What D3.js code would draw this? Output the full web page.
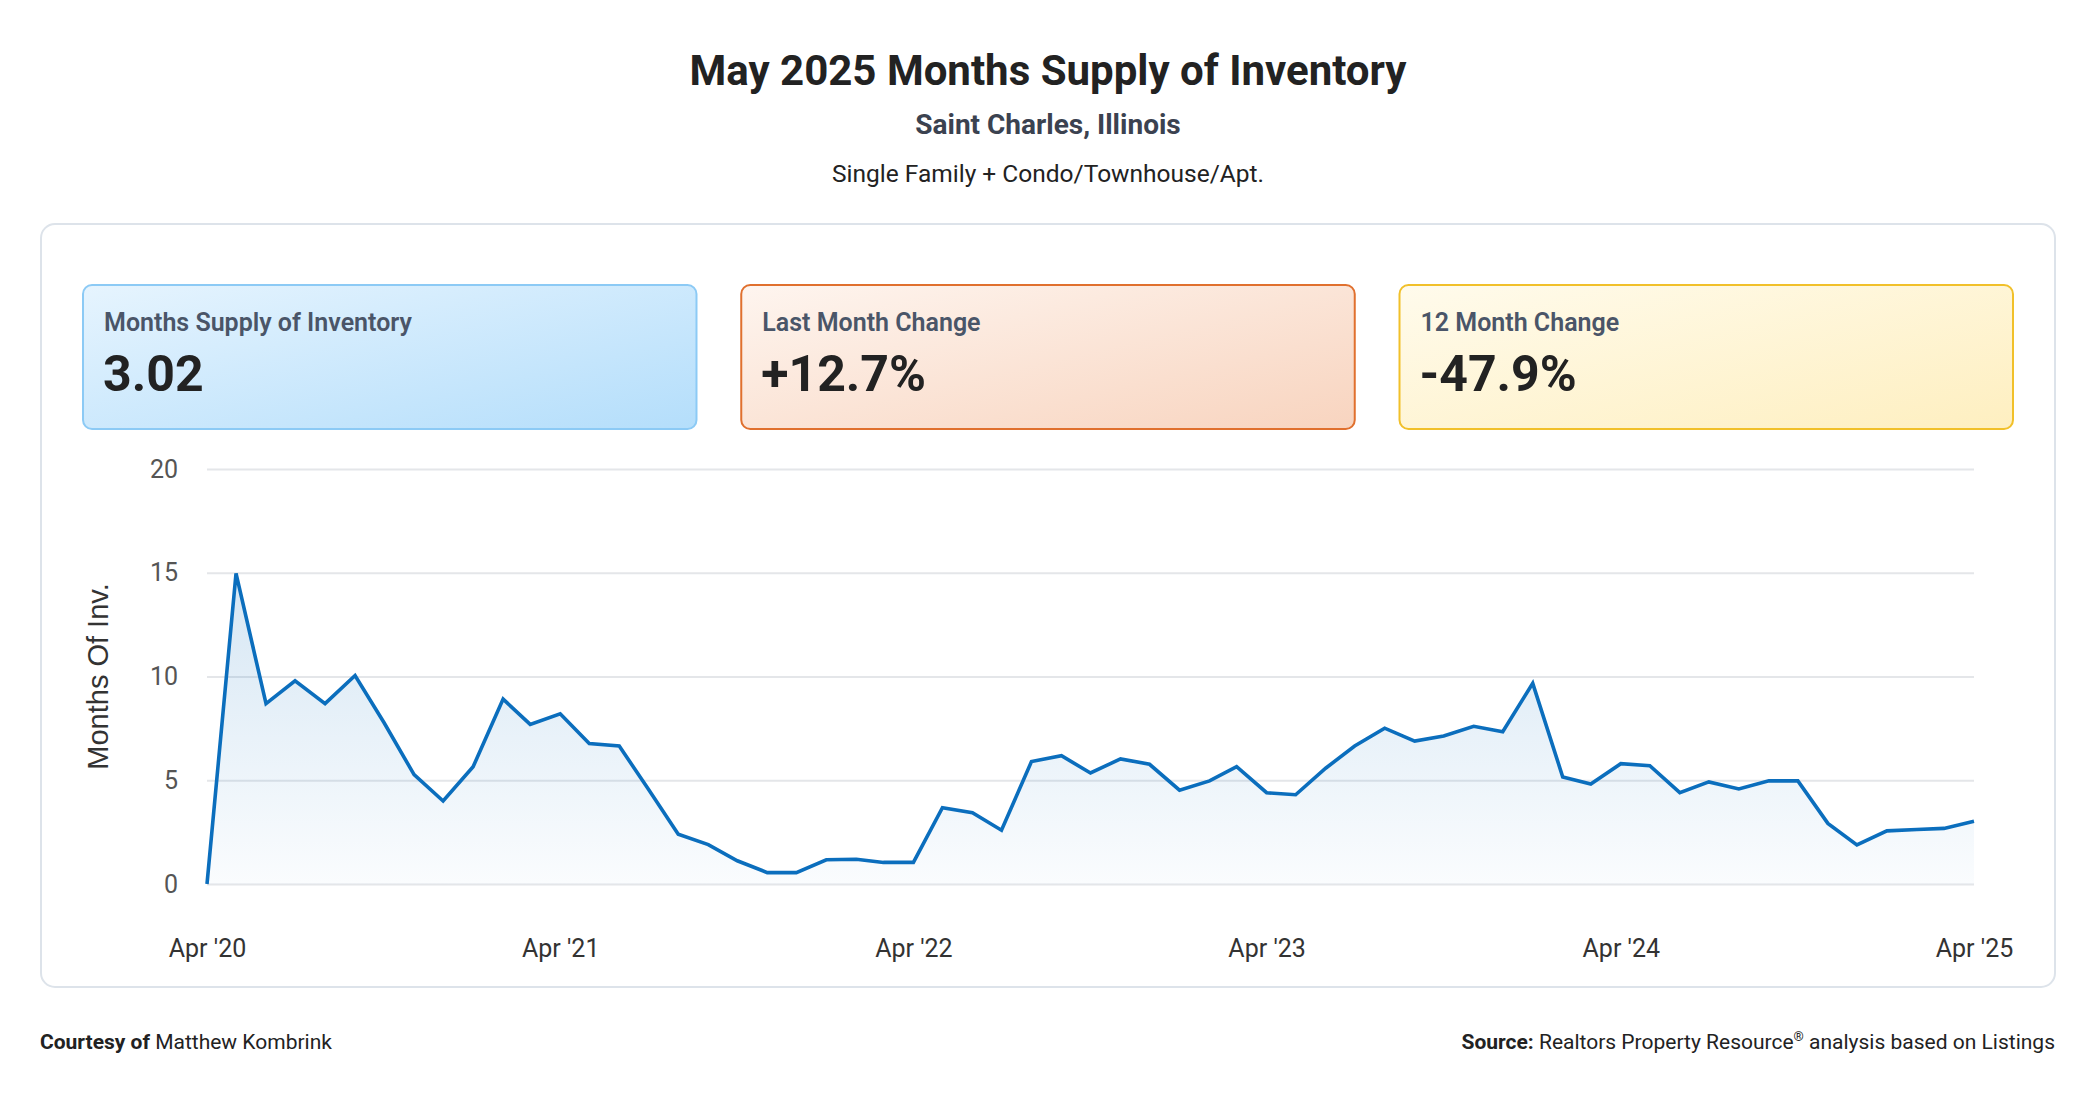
<!DOCTYPE html>
<html>
<head>
<meta charset="utf-8">
<script src="https://cdn.jsdelivr.net/npm/d3@7"></script>
<style>
  html, body { margin: 0; padding: 0; background: #fff; }
  svg { display: block; font-family: Roboto, "Noto Sans", sans-serif; }
</style>
</head>
<body>
<div id="chart"></div>
<script>
// monthly months-supply values, Apr 2020 .. Apr 2025
const startMonth = new Date(2020, 3, 1);
const supply = [
  0, 14.97, 8.69, 9.79, 8.69, 10.05, 7.77, 5.27, 4.0, 5.65, 8.91, 7.69,
  8.2, 6.77, 6.65, 4.58, 2.4, 1.9, 1.12, 0.55, 0.55, 1.17, 1.19, 1.04,
  1.04, 3.68, 3.44, 2.59, 5.9, 6.18, 5.35, 6.03, 5.77, 4.52, 4.97, 5.65,
  4.40, 4.30, 5.58, 6.65, 7.51, 6.89, 7.13, 7.60, 7.34, 9.67, 5.16, 4.82,
  5.80, 5.70, 4.40, 4.92, 4.58, 4.97, 4.97, 2.92, 1.88, 2.56, 2.63, 2.68,
  3.02
];
const yTicks = [0, 5, 10, 15, 20];
const xTickDates = [
  new Date(2020, 3, 1), new Date(2021, 3, 1), new Date(2022, 3, 1),
  new Date(2023, 3, 1), new Date(2024, 3, 1), new Date(2025, 3, 1)
];
const statLabels = ['Months Supply of Inventory', 'Last Month Change', '12 Month Change'];
const statValues = ['3.02', '+12.7%', '-47.9%'];
const statThemes = [
  {from: '#e6f4fe', to: '#b4defb', border: '#8ccaf5'},
  {from: '#fef5ef', to: '#f8d4bf', border: '#e0702e'},
  {from: '#fffbec', to: '#feefc0', border: '#f1c02a'}
];

const W = 2096, H = 1100;
const plot = {left: 207, right: 1974, top: 469, bottom: 884};

const svg = d3.select('#chart').append('svg')
  .attr('width', W)
  .attr('height', H);

const defs = svg.append('defs');

// #region Header

svg.append('text')
  .attr('x', W / 2).attr('y', 85)
  .attr('text-anchor', 'middle')
  .attr('font-size', 42).attr('font-weight', 700)
  .attr('fill', '#222')
  .text('May 2025 Months Supply of Inventory');

svg.append('text')
  .attr('x', W / 2).attr('y', 134)
  .attr('text-anchor', 'middle')
  .attr('font-size', 28).attr('font-weight', 700)
  .attr('fill', '#3b4250')
  .text('Saint Charles, Illinois');

svg.append('text')
  .attr('x', W / 2).attr('y', 182)
  .attr('text-anchor', 'middle')
  .attr('font-size', 24.5)
  .attr('fill', '#222')
  .text('Single Family + Condo/Townhouse/Apt.');

// #endregion

// outer panel
svg.append('rect')
  .attr('x', 41).attr('y', 224)
  .attr('width', 2014).attr('height', 763)
  .attr('rx', 14)
  .attr('fill', '#fff')
  .attr('stroke', '#dde3ea')
  .attr('stroke-width', 2);

// #region Stat cards

const cardX = d3.scaleBand()
  .domain(d3.range(statLabels.length))
  .range([83, 2013])
  .paddingInner(0.068);

statThemes.forEach((t, i) => {
  const g = defs.append('linearGradient')
    .attr('id', 'card' + i)
    .attr('x1', '0%').attr('y1', '0%')
    .attr('x2', '100%').attr('y2', '100%');
  g.append('stop').attr('offset', '0%').attr('stop-color', t.from);
  g.append('stop').attr('offset', '100%').attr('stop-color', t.to);
});

const cards = svg.append('g')
  .selectAll('g')
  .data(statLabels)
  .enter()
  .append('g')
  .attr('transform', (d, i) => `translate(${cardX(i)}, 285)`);

cards.append('rect')
  .attr('width', cardX.bandwidth())
  .attr('height', 144)
  .attr('rx', 9)
  .attr('fill', (d, i) => `url(#card${i})`)
  .attr('stroke', (d, i) => statThemes[i].border)
  .attr('stroke-width', 2);

cards.append('text')
  .attr('x', 21).attr('y', 46)
  .attr('font-size', 25).attr('font-weight', 600)
  .attr('fill', '#4a5568')
  .text(d => d);

cards.append('text')
  .attr('x', 20).attr('y', 106)
  .attr('font-size', 50).attr('font-weight', 700)
  .attr('fill', '#222')
  .text((d, i) => statValues[i]);

// #endregion

// #region Line chart

const dates = supply.map((v, i) => d3.timeMonth.offset(startMonth, i));

const x = d3.scaleTime()
  .domain(d3.extent(dates))
  .range([plot.left, plot.right]);

const y = d3.scaleLinear()
  .domain([0, 20])
  .range([plot.bottom, plot.top]);

const yAxis = svg.append('g')
  .attr('transform', `translate(${plot.left}, 0)`)
  .call(d3.axisLeft(y)
    .tickValues(yTicks)
    .tickSize(-(plot.right - plot.left))
    .tickPadding(29));

yAxis.select('.domain').remove();
yAxis.selectAll('line').attr('stroke', '#e4e6e9').attr('stroke-width', 2);
yAxis.selectAll('text')
  .attr('font-family', 'Roboto, sans-serif')
  .attr('font-size', 25)
  .attr('fill', '#555');

const xAxis = svg.append('g')
  .attr('transform', `translate(0, ${plot.bottom})`)
  .call(d3.axisBottom(x)
    .tickValues(xTickDates)
    .tickFormat(d3.timeFormat("%b '%y"))
    .tickSize(0)
    .tickPadding(55));

xAxis.select('.domain').remove();
xAxis.selectAll('text')
  .attr('font-family', 'Roboto, sans-serif')
  .attr('font-size', 25)
  .attr('fill', '#333');

svg.append('text')
  .attr('transform', `translate(108, ${(plot.top + plot.bottom) / 2}) rotate(-90)`)
  .attr('text-anchor', 'middle')
  .attr('font-family', '"Liberation Sans", Arial, sans-serif')
  .attr('font-size', 29)
  .attr('fill', '#333')
  .text('Months Of Inv.');

const areaGrad = defs.append('linearGradient')
  .attr('id', 'areaFill')
  .attr('gradientUnits', 'userSpaceOnUse')
  .attr('x1', 0).attr('y1', y(15))
  .attr('x2', 0).attr('y2', plot.bottom);
areaGrad.append('stop').attr('offset', '0%').attr('stop-color', '#0b6ebd').attr('stop-opacity', 0.17);
areaGrad.append('stop').attr('offset', '100%').attr('stop-color', '#0b6ebd').attr('stop-opacity', 0.02);

svg.append('path')
  .datum(supply)
  .attr('fill', 'url(#areaFill)')
  .attr('d', d3.area()
    .x((d, i) => x(dates[i]))
    .y0(y(0))
    .y1(d => y(d)));

svg.append('path')
  .datum(supply)
  .attr('fill', 'none')
  .attr('stroke', '#0b6ebd')
  .attr('stroke-width', 3.6)
  .attr('stroke-linejoin', 'miter')
  .attr('d', d3.line()
    .x((d, i) => x(dates[i]))
    .y(d => y(d)));

// #endregion

// #region Footer

const courtesy = svg.append('text')
  .attr('x', 40).attr('y', 1049)
  .attr('font-size', 21)
  .attr('fill', '#222');
courtesy.append('tspan').attr('font-weight', 700).text('Courtesy of ');
courtesy.append('tspan').text('Matthew Kombrink');

const source = svg.append('text')
  .attr('x', 2055).attr('y', 1049)
  .attr('text-anchor', 'end')
  .attr('font-size', 21)
  .attr('fill', '#222');
source.append('tspan').attr('font-weight', 700).text('Source: ');
source.append('tspan').text('Realtors Property Resource');
source.append('tspan').attr('font-size', 13).attr('dy', -8).text('®');
source.append('tspan').attr('dy', 8).text(' analysis based on Listings');

// #endregion
</script>
</body>
</html>
